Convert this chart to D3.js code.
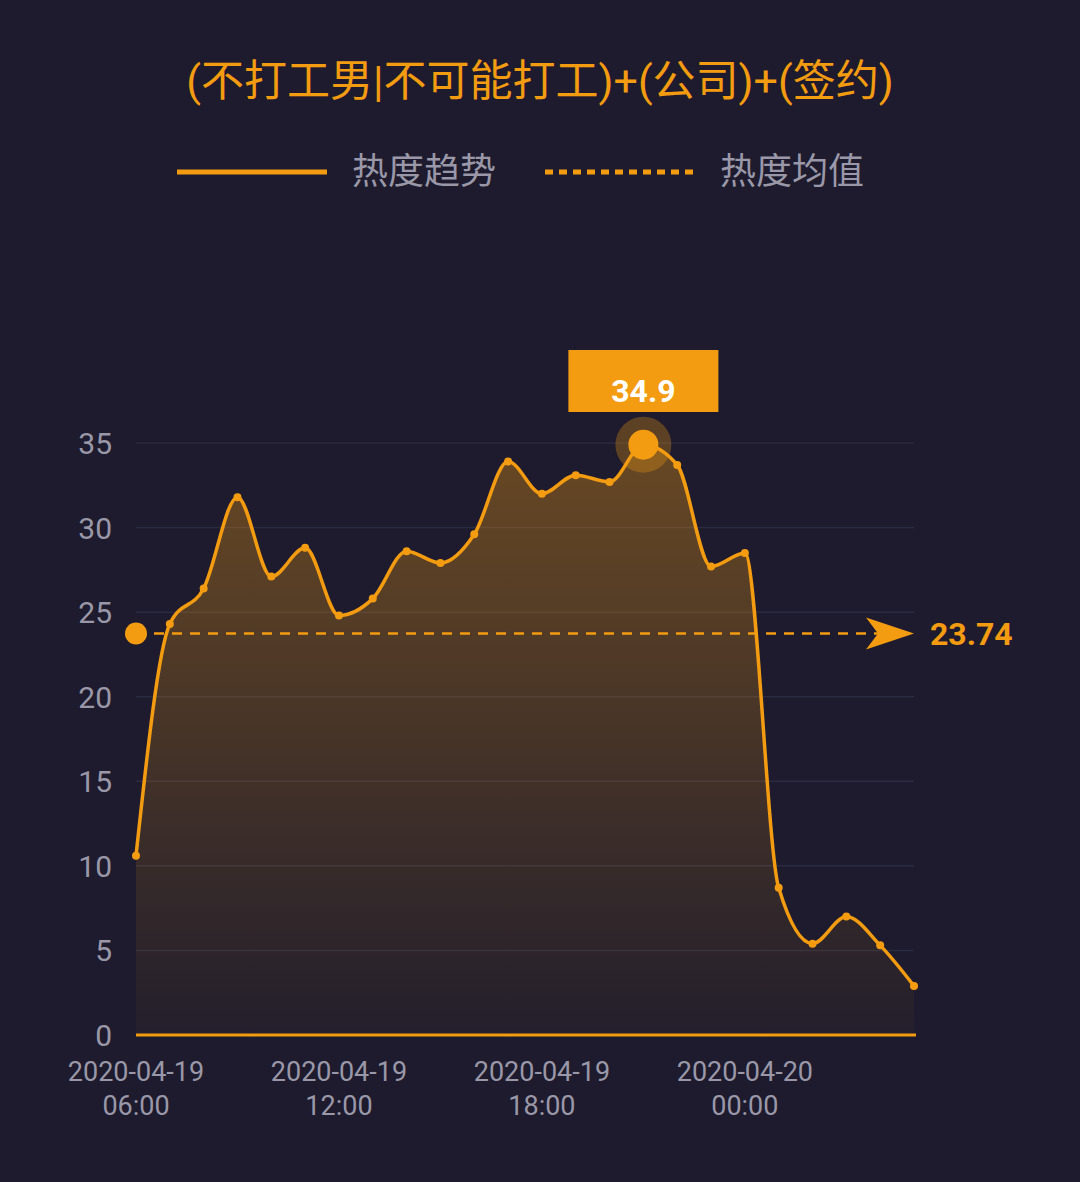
<!DOCTYPE html>
<html><head><meta charset="utf-8">
<script src="https://cdn.jsdelivr.net/npm/d3@7"></script>
<style>body{margin:0;background:#1d1b2d;}svg{display:block}</style>
</head><body><svg id="c" width="1080" height="1182"></svg>
<script>
const hours=["06:00","07:00","08:00","09:00","10:00","11:00","12:00","13:00","14:00","15:00","16:00","17:00","18:00","19:00","20:00","21:00","22:00","23:00","00:00","01:00","02:00","03:00","04:00","05:00"];
const values=[10.6,24.3,26.4,31.8,27.1,28.8,24.8,25.8,28.6,27.9,29.6,33.9,32.0,33.1,32.7,34.9,33.7,27.7,28.5,8.7,5.4,7.0,5.3,2.9];
const yTicks=[0,5,10,15,20,25,30,35];
const xTickIdx=[0,6,12,18];
const xTickLabels=[["2020-04-19","06:00"],["2020-04-19","12:00"],["2020-04-19","18:00"],["2020-04-20","00:00"]];
const meanValue=23.74;
const title="(不打工男|不可能打工)+(公司)+(签约)";
const legendNames=["热度趋势","热度均值"];

const C="#f39c12", F="Roboto,'Noto Sans CJK SC',sans-serif";
const svg=d3.select("#c");
svg.append("rect").attr("width",1080).attr("height",1182).attr("fill","#1d1b2d");
const x=d3.scaleLinear().domain([0,23]).range([136,914]);
const y=d3.scaleLinear().domain([0,35]).range([1035,443]);
svg.append("text").attr("x",540).attr("y",96).attr("text-anchor","middle").attr("fill",C).attr("font-size",43).attr("font-family",F).text(title);
svg.append("line").attr("x1",177).attr("x2",327).attr("y1",172).attr("y2",172).attr("stroke",C).attr("stroke-width",5);
svg.append("text").attr("x",352).attr("y",184).attr("fill","#9a98a8").attr("font-size",36).attr("font-family",F).text(legendNames[0]);
svg.append("line").attr("x1",545).attr("x2",695).attr("y1",172).attr("y2",172).attr("stroke",C).attr("stroke-width",5).attr("stroke-dasharray","8,6");
svg.append("text").attr("x",720).attr("y",184).attr("fill","#9a98a8").attr("font-size",36).attr("font-family",F).text(legendNames[1]);
yTicks.forEach(t=>{
 if(t>0)svg.append("line").attr("x1",136).attr("x2",914).attr("y1",y(t)).attr("y2",y(t)).attr("stroke","#2c2a40").attr("stroke-width",1.5);
 svg.append("text").attr("x",112).attr("y",y(t)+11).attr("text-anchor","end").attr("fill","#9a98a8").attr("font-size",30).attr("font-family",F).text(t);
});
const defs=svg.append("defs");
const g=defs.append("linearGradient").attr("id","gr").attr("x1",0).attr("x2",0).attr("y1",0).attr("y2",1);
g.append("stop").attr("offset","0%").attr("stop-color",C).attr("stop-opacity",0.35);
g.append("stop").attr("offset","100%").attr("stop-color",C).attr("stop-opacity",0.03);
const curve=d3.curveMonotoneX;
svg.append("path").datum(values).attr("d",d3.area().x((d,i)=>x(i)).y0(y(0)).y1(d=>y(d)).curve(curve)).attr("fill","url(#gr)");
svg.append("path").datum(values).attr("d",d3.line().x((d,i)=>x(i)).y(d=>y(d)).curve(curve)).attr("fill","none").attr("stroke",C).attr("stroke-width",3.5);
svg.selectAll(".pt").data(values).enter().append("circle").attr("cx",(d,i)=>x(i)).attr("cy",d=>y(d)).attr("r",4).attr("fill",C);
svg.append("line").attr("x1",136).attr("x2",916).attr("y1",y(0)).attr("y2",y(0)).attr("stroke",C).attr("stroke-width",3);
svg.append("line").attr("x1",136).attr("x2",880).attr("y1",y(meanValue)).attr("y2",y(meanValue)).attr("stroke",C).attr("stroke-width",2.5).attr("stroke-dasharray","10,8");
svg.append("circle").attr("cx",136).attr("cy",y(meanValue)).attr("r",11).attr("fill",C);
const my=y(meanValue);
svg.append("path").attr("d",`M866,${my-16} L914,${my} L866,${my+16} L878,${my} Z`).attr("fill",C);
svg.append("text").attr("x",930).attr("y",my+12).attr("fill",C).attr("font-size",32).attr("font-weight","bold").attr("font-family",F).text(meanValue.toFixed(2));
const mi=values.indexOf(d3.max(values));
svg.append("circle").attr("cx",x(mi)).attr("cy",y(values[mi])).attr("r",28).attr("fill",C).attr("opacity",0.3);
svg.append("circle").attr("cx",x(mi)).attr("cy",y(values[mi])).attr("r",15).attr("fill",C);
svg.append("rect").attr("x",x(mi)-75).attr("y",350).attr("width",150).attr("height",62).attr("fill",C);
svg.append("text").attr("x",x(mi)).attr("y",402).attr("text-anchor","middle").attr("fill","#fff").attr("font-size",32).attr("font-weight","bold").attr("font-family",F).text(values[mi]);
xTickIdx.forEach((idx,k)=>{
 xTickLabels[k].forEach((s,j)=>svg.append("text").attr("x",x(idx)).attr("y",1081+j*34).attr("text-anchor","middle").attr("fill","#9a98a8").attr("font-size",27).attr("font-family",F).text(s));
});
</script></body></html>
